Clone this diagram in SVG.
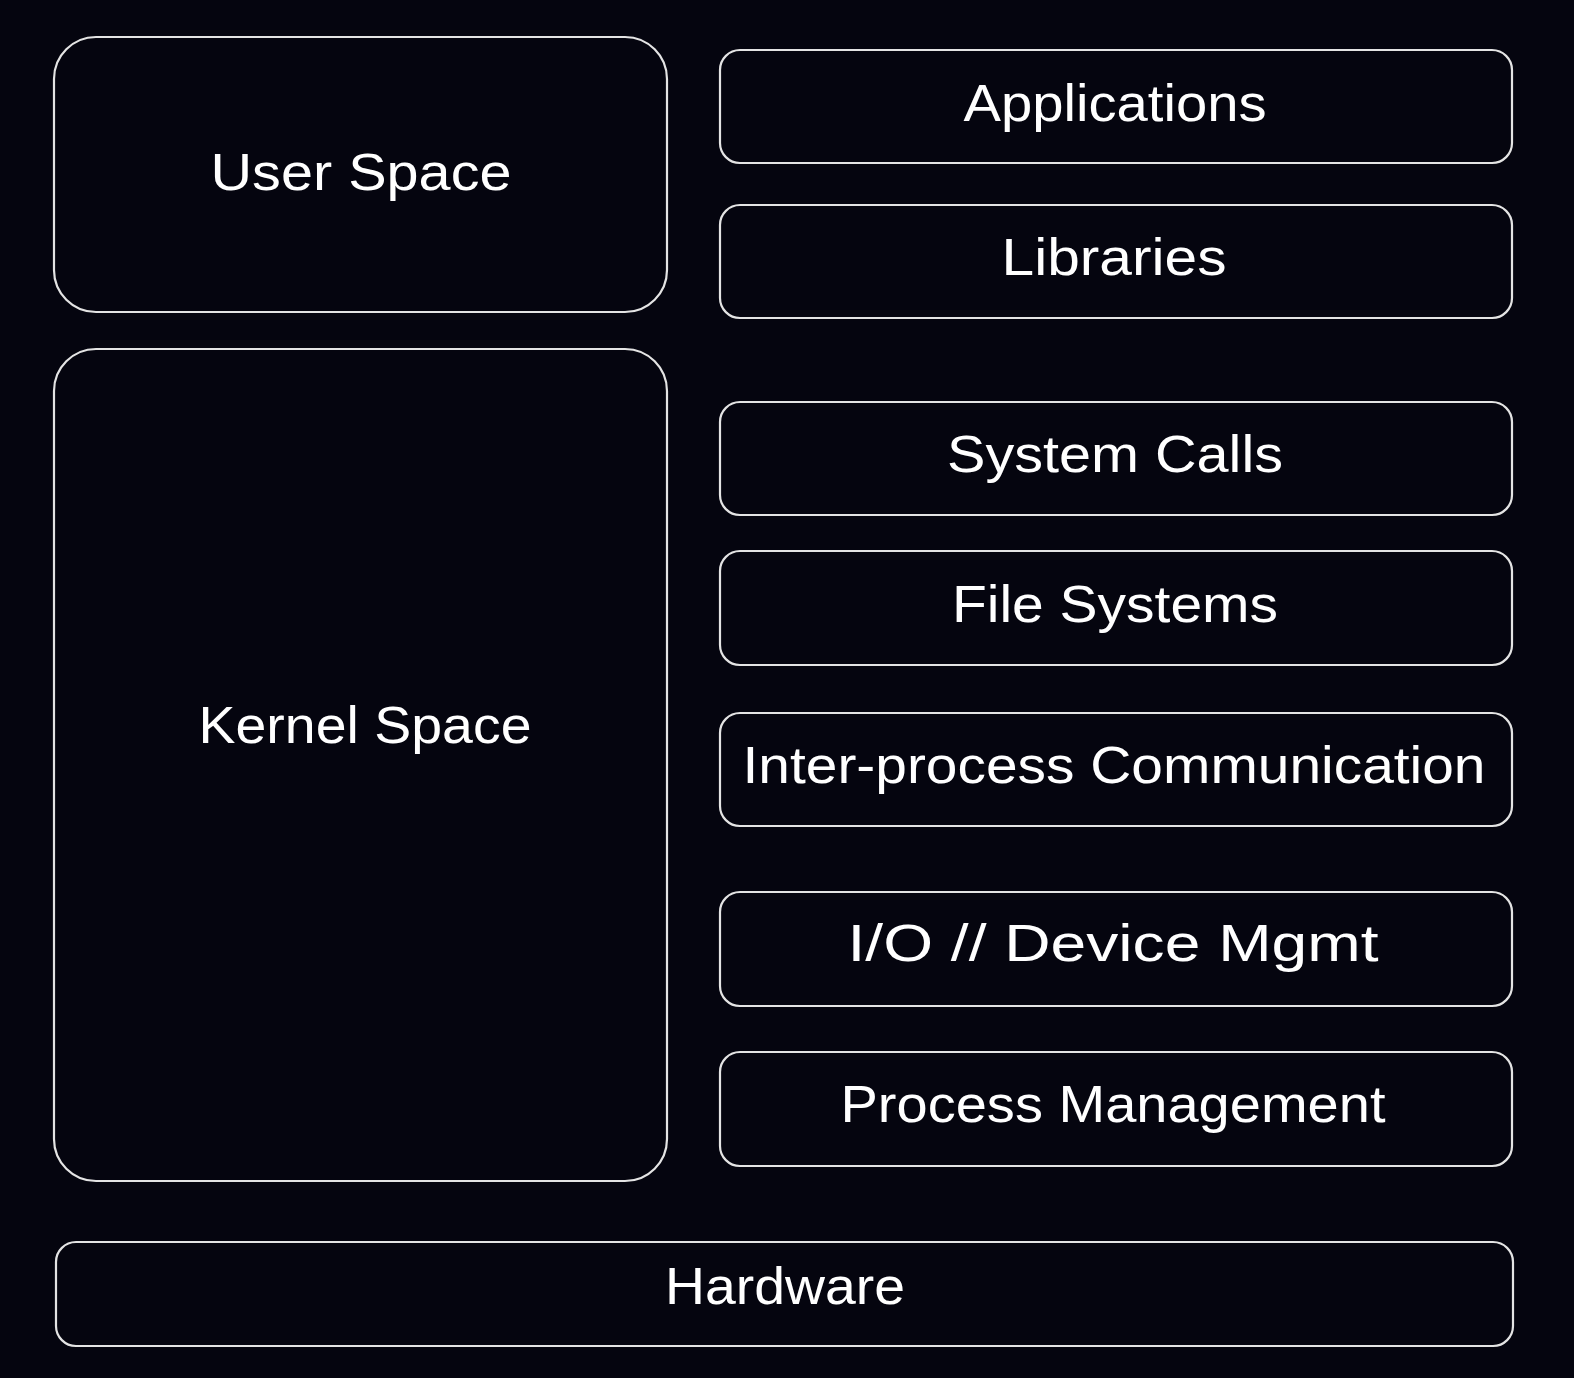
<svg xmlns="http://www.w3.org/2000/svg" width="1574" height="1378" viewBox="0 0 1574 1378">
<style>
.box{fill:#05050f;stroke:#e4e4e4;stroke-width:2.2}
.lbl{fill:#ffffff;font-family:"Liberation Sans",Arial,sans-serif;font-size:52px;text-anchor:middle;lengthAdjust:spacingAndGlyphs}
</style>
<rect width="1574" height="1378" fill="#05050f"/>
<g id="user-space"><rect class="box" x="54" y="37" width="613" height="275" rx="42"/><text class="lbl" x="361" y="190" textLength="301" lengthAdjust="spacingAndGlyphs">User Space</text></g>
<g id="kernel-space"><rect class="box" x="54" y="349" width="613" height="832" rx="42"/><text class="lbl" x="365" y="743" textLength="333" lengthAdjust="spacingAndGlyphs">Kernel Space</text></g>
<g id="applications"><rect class="box" x="720" y="50" width="792" height="113" rx="20"/><text class="lbl" x="1115" y="121" textLength="303" lengthAdjust="spacingAndGlyphs">Applications</text></g>
<g id="libraries"><rect class="box" x="720" y="205" width="792" height="113" rx="20"/><text class="lbl" x="1114" y="275" textLength="225" lengthAdjust="spacingAndGlyphs">Libraries</text></g>
<g id="system-calls"><rect class="box" x="720" y="402" width="792" height="113" rx="20"/><text class="lbl" x="1115" y="472" textLength="336" lengthAdjust="spacingAndGlyphs">System Calls</text></g>
<g id="file-systems"><rect class="box" x="720" y="551" width="792" height="114" rx="20"/><text class="lbl" x="1115" y="622" textLength="326" lengthAdjust="spacingAndGlyphs">File Systems</text></g>
<g id="ipc"><rect class="box" x="720" y="713" width="792" height="113" rx="20"/><text class="lbl" x="1114" y="783" textLength="743" lengthAdjust="spacingAndGlyphs">Inter-process Communication</text></g>
<g id="io-device"><rect class="box" x="720" y="892" width="792" height="114" rx="20"/><text class="lbl" x="1113" y="961" textLength="531" lengthAdjust="spacingAndGlyphs">I/O // Device Mgmt</text></g>
<g id="process-management"><rect class="box" x="720" y="1052" width="792" height="114" rx="20"/><text class="lbl" x="1113" y="1122" textLength="545" lengthAdjust="spacingAndGlyphs">Process Management</text></g>
<g id="hardware"><rect class="box" x="56" y="1242" width="1457" height="104" rx="20"/><text class="lbl" x="785" y="1304" textLength="240" lengthAdjust="spacingAndGlyphs">Hardware</text></g>
<g id="connectors"></g>
</svg>
